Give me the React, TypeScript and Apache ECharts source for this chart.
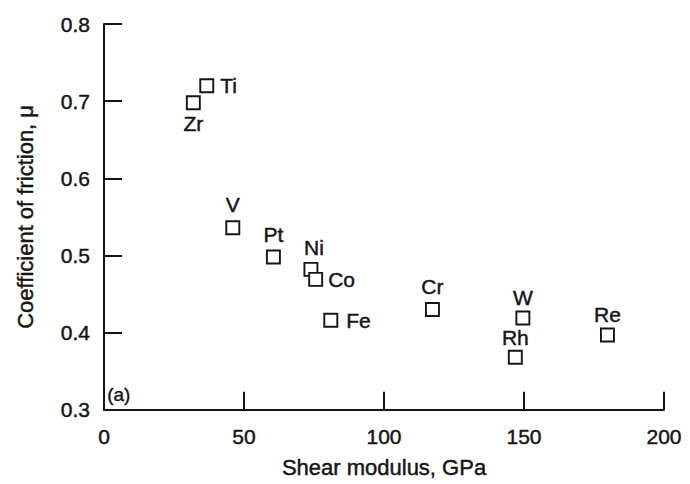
import React, { useEffect, useRef } from "react";
import * as echarts from "echarts";

const elements = ["Zr", "Ti", "V", "Pt", "Ni", "Co", "Fe", "Cr", "W", "Rh", "Re"];
const shearModulusGPa = [31.9, 36.7, 46.0, 60.5, 73.9, 75.6, 81.0, 117.3, 149.6, 146.9, 179.8];
const frictionCoefficient = [0.698, 0.72, 0.536, 0.498, 0.482, 0.469, 0.416, 0.43, 0.419, 0.368, 0.397];
const xAxisMin = 0;
const xAxisMax = 200;
const xAxisStep = 50;
const yAxisMin = 0.3;
const yAxisMax = 0.8;
const yAxisStep = 0.1;
const panelTag = "(a)";

const labelPlacement: Record<string, { position: string; distance: number; offset?: [number, number] }> = {
  Zr: { position: "bottom", distance: 3 },
  Ti: { position: "right", distance: 6 },
  V: { position: "top", distance: 5 },
  Pt: { position: "top", distance: 5 },
  Ni: { position: "top", distance: 4, offset: [3, 0] },
  Co: { position: "right", distance: 5 },
  Fe: { position: "right", distance: 8 },
  Cr: { position: "top", distance: 5 },
  W: { position: "top", distance: 3 },
  Rh: { position: "top", distance: 2 },
  Re: { position: "top", distance: 2 },
};

const FONT = "'Liberation Sans', Arial, Helvetica, sans-serif";
const INK = "#151515";
const heavy = { textBorderColor: INK, textBorderWidth: 0.45 };

export default function App() {
  const ref = useRef<HTMLDivElement>(null);
  useEffect(() => {
    if (!ref.current) return;
    const chart = echarts.init(ref.current, undefined, { renderer: "svg" });
    const data = elements.map((name, i) => {
      const p = labelPlacement[name];
      return {
        name,
        value: [shearModulusGPa[i], frictionCoefficient[i]],
        label: { position: p.position, distance: p.distance, offset: p.offset || [0, 0] },
      };
    });
    chart.setOption({
      animation: false,
      backgroundColor: "#ffffff",
      textStyle: { fontFamily: FONT },
      grid: { left: 104, top: 24, right: 26, bottom: 70 },
      xAxis: {
        type: "value",
        min: xAxisMin,
        max: xAxisMax,
        interval: xAxisStep,
        name: "Shear modulus, GPa",
        nameLocation: "middle",
        nameGap: 47,
        nameTextStyle: { fontSize: 22, color: INK, fontFamily: FONT, ...heavy },
        axisLine: { show: true, lineStyle: { color: INK, width: 2 } },
        axisTick: { show: true, inside: true, length: 18, lineStyle: { color: INK, width: 2 } },
        axisLabel: { fontSize: 21, color: INK, margin: 16, fontFamily: FONT, ...heavy },
        splitLine: { show: false },
      },
      yAxis: {
        type: "value",
        min: yAxisMin,
        max: yAxisMax,
        interval: yAxisStep,
        name: "Coefficient of friction, μ",
        nameLocation: "middle",
        nameGap: 68,
        nameRotate: 90,
        nameTextStyle: { fontSize: 22, color: INK, fontFamily: FONT, ...heavy },
        axisLine: { show: true, lineStyle: { color: INK, width: 2 } },
        axisTick: { show: true, inside: true, length: 18, lineStyle: { color: INK, width: 2 } },
        axisLabel: {
          fontSize: 21,
          color: INK,
          margin: 14,
          fontFamily: FONT,
          ...heavy,
          formatter: (v: number) => v.toFixed(1),
        },
        splitLine: { show: false },
      },
      graphic: [
        {
          type: "text",
          left: 107,
          top: 385,
          style: { text: panelTag, fontSize: 19, fill: INK, fontFamily: FONT, stroke: INK, lineWidth: 0.4 },
        },
      ],
      series: [
        {
          type: "scatter",
          symbol: "rect",
          symbolSize: 13,
          itemStyle: { color: "#ffffff", borderColor: INK, borderWidth: 1.9, opacity: 1 },
          label: {
            show: true,
            formatter: "{b}",
            fontSize: 21,
            color: INK,
            fontFamily: FONT,
            ...heavy,
          },
          emphasis: { disabled: true },
          data,
        },
      ],
    });
    return () => chart.dispose();
  }, []);
  return (
    <div
      ref={ref}
      style={{ position: "fixed", left: 0, top: 0, width: 690, height: 484, background: "#fff" }}
    />
  );
}
